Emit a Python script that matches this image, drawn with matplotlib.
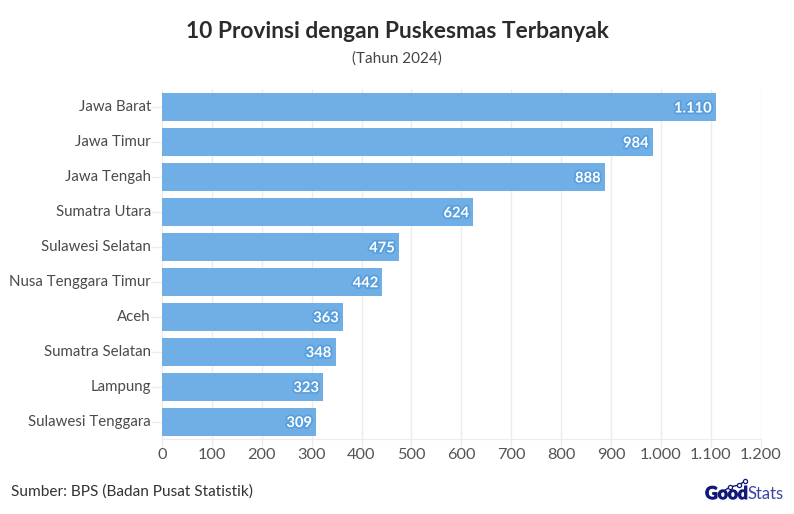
import matplotlib
matplotlib.use("Agg")
import matplotlib.pyplot as plt
import matplotlib.patheffects as pe
from matplotlib.lines import Line2D

provinces = ["Jawa Barat", "Jawa Timur", "Jawa Tengah", "Sumatra Utara", "Sulawesi Selatan",
             "Nusa Tenggara Timur", "Aceh", "Sumatra Selatan", "Lampung", "Sulawesi Tenggara"]
values = [1110, 984, 888, 624, 475, 442, 363, 348, 323, 309]
value_labels = ["1.110", "984", "888", "624", "475", "442", "363", "348", "323", "309"]
x_ticks = [0, 100, 200, 300, 400, 500, 600, 700, 800, 900, 1000, 1100, 1200]
x_tick_labels = ["0", "100", "200", "300", "400", "500", "600", "700", "800", "900", "1.000", "1.100", "1.200"]
title = "10 Provinsi dengan Puskesmas Terbanyak"
subtitle = "(Tahun 2024)"
source = "Sumber: BPS (Badan Pusat Statistik)"

plt.rcParams["font.family"] = ["Lato", "Roboto", "DejaVu Sans"]
W, H = 794, 514
fig = plt.figure(figsize=(W / 100, H / 100), dpi=100, facecolor="white")
ax = fig.add_axes([162 / W, 1 - 439 / H, (760.5 - 162) / W, (439 - 89.5) / H])

ax.barh(range(len(values)), values, height=0.8, color="#70AEE6", zorder=2)
ax.set_ylim(len(values) - 0.5, -0.5)
ax.set_xlim(0, 1200)
ax.set_yticks(range(len(values)), provinces)
ax.set_xticks(x_ticks, x_tick_labels)
ax.tick_params(axis="y", length=8, width=1, color="#ECECEC", labelcolor="#4A4A4A", labelsize=10.8, pad=0)
ax.tick_params(axis="x", length=6, width=1, color="#ECECEC", labelcolor="#555555", labelsize=11.8, pad=0.5)
for lab in ax.get_yticklabels():
    lab.set_y(lab.get_position()[1])
    lab.set_verticalalignment("center")
ax.grid(axis="x", color="#ECECEC", linewidth=1, zorder=1)
ax.set_axisbelow(True)
for side in ["top", "right", "left"]:
    ax.spines[side].set_visible(False)
ax.spines["bottom"].set_color("#ECECEC")

for i, (v, lab) in enumerate(zip(values, value_labels)):
    ax.text(v - 8, i, lab, ha="right", va="center_baseline", color="white", fontsize=10.6,
            fontweight="bold", zorder=4,
            path_effects=[pe.withStroke(linewidth=2.6, foreground="#5A9FDD")])

fig.text(397 / W, 1 - 31 / H, title, ha="center", va="center", fontsize=16.35, fontweight="bold", color="#2B2B2B")
fig.text(397 / W, 1 - 59 / H, subtitle, ha="center", va="center", fontsize=11, color="#444444")
fig.text(11 / W, 1 - 492 / H, source, ha="left", va="center", fontsize=11.1, color="#333333")

# GoodStats wordmark
navy = "#10187A"
fig.text(748 / W, 1 - 494 / H, "Good", ha="right", va="center", fontsize=12.6, fontweight="bold", color=navy,
         path_effects=[pe.withStroke(linewidth=0.8, foreground=navy)])
fig.text(748 / W, 1 - 494 / H, "Stats", ha="left", va="center", fontsize=12, color="#3A45A0")
fig.add_artist(Line2D([722 / W, 730 / W, 739 / W, 745 / W], [1 - 492 / H, 1 - 487 / H, 1 - 485 / H, 1 - 481 / H],
                      transform=fig.transFigure, color=navy, linewidth=1, marker="o", markersize=3,
                      markerfacecolor="white", markeredgecolor=navy, markeredgewidth=0.9, markevery=[1, 2, 3]))
fig.savefig("out.png", dpi=100, facecolor="white")
